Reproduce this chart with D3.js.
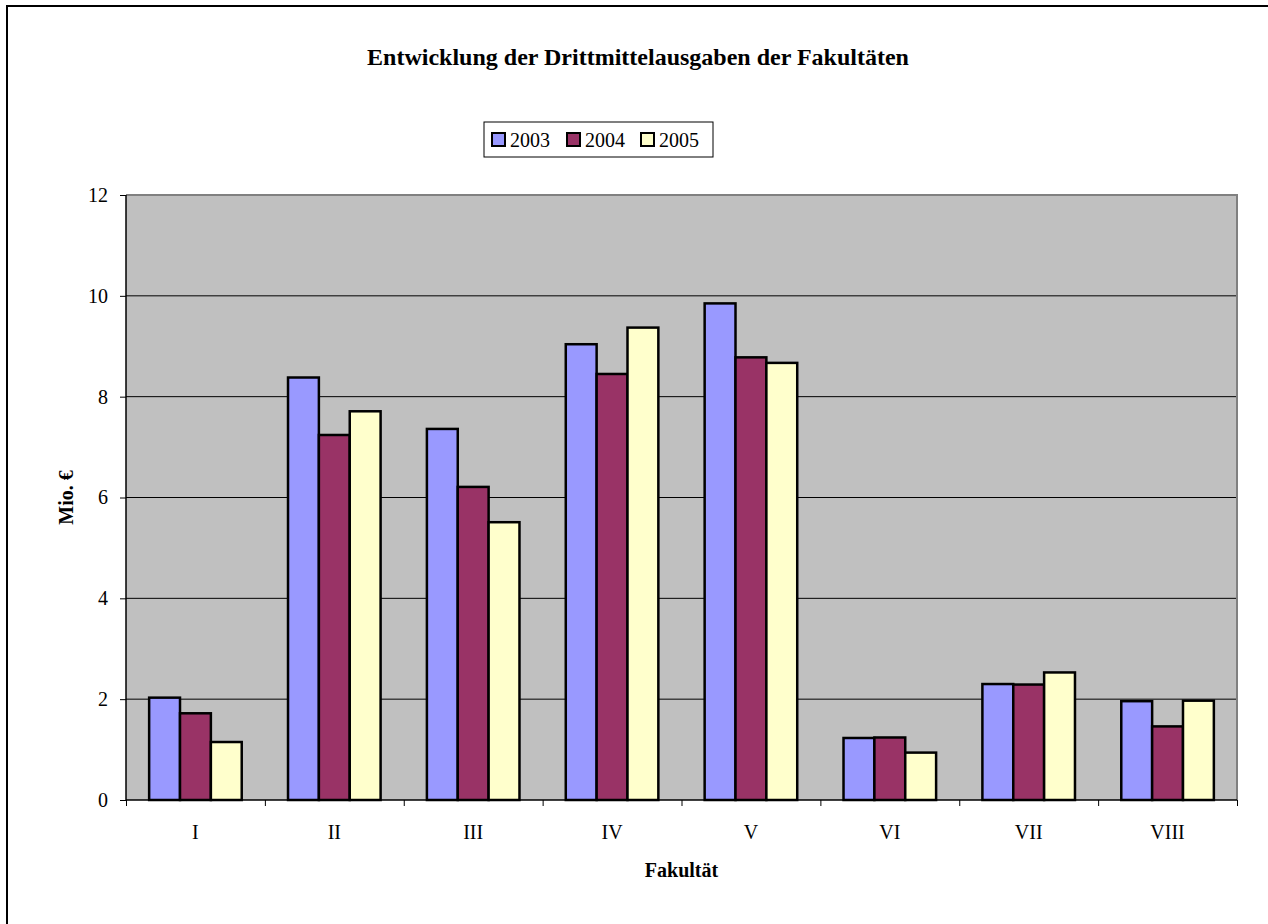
<!DOCTYPE html>
<html>
<head>
<meta charset="utf-8">
<script src="https://cdn.jsdelivr.net/npm/d3@7"></script>
<style>
  body { margin: 0; background: #fff; }
</style>
</head>
<body>
<svg width="1268" height="924"></svg>
<script>
const categories = ['I', 'II', 'III', 'IV', 'V', 'VI', 'VII', 'VIII'];
const years = ['2003', '2004', '2005'];
const values2003 = [2.03, 8.38, 7.36, 9.04, 9.85, 1.23, 2.30, 1.96];
const values2004 = [1.72, 7.24, 6.21, 8.45, 8.78, 1.24, 2.29, 1.46];
const values2005 = [1.15, 7.71, 5.51, 9.37, 8.67, 0.94, 2.53, 1.97];
const yTicks = [0, 2, 4, 6, 8, 10, 12];
const colors = ['#9999FF', '#993366', '#FFFFCC'];

const FONT = '"Liberation Serif", "Times New Roman", serif';

const svg = d3.select('svg')
    .attr('font-family', FONT);
const width = +svg.attr('width');
const height = +svg.attr('height');

// outer chart frame (only left and top edges are visible)
svg.append('path')
    .attr('d', `M7,${height}V6H${width}`)
    .attr('fill', 'none')
    .attr('stroke', '#000')
    .attr('stroke-width', 2);

const margin = { top: 195, right: width - 1237, bottom: height - 800, left: 126 };
const innerWidth = width - margin.left - margin.right;
const innerHeight = height - margin.top - margin.bottom;

const g = svg.append('g')
    .attr('transform', `translate(${margin.left},${margin.top})`);

const series = years.map((y, i) => ({
    year: y,
    values: [values2003, values2004, values2005][i]
}));

const rows = categories.map((c, ci) => ({
    cat: c,
    bars: series.map(s => ({ year: s.year, value: s.values[ci] }))
}));

const xScale = d3.scaleBand()
    .domain(categories)
    .range([0, innerWidth]);

const step = xScale.bandwidth();
const gap = step * 1.5 / 4.5;
const xInner = d3.scaleBand()
    .domain(years)
    .range([gap / 2, step - gap / 2]);

const yScale = d3.scaleLinear()
    .domain([0, 12])
    .range([innerHeight, 0]);

const colorScale = d3.scaleOrdinal().domain(years).range(colors);

// plot background
g.append('rect')
    .attr('width', innerWidth)
    .attr('height', innerHeight)
    .attr('fill', '#C0C0C0');

// gridlines
g.selectAll('.grid')
    .data(yTicks.filter(t => t > 0 && t < 12))
    .enter()
    .append('line')
    .attr('class', 'grid')
    .attr('x1', 0).attr('x2', innerWidth)
    .attr('y1', d => yScale(d)).attr('y2', d => yScale(d))
    .attr('stroke', '#000')
    .attr('stroke-width', 1);

// top and right plot border
g.append('path')
    .attr('d', `M0,0H${innerWidth}V${innerHeight}`)
    .attr('fill', 'none')
    .attr('stroke', '#808080')
    .attr('stroke-width', 2);

// bars
const groups = g.selectAll('.group')
    .data(rows)
    .enter()
    .append('g')
    .attr('class', 'group')
    .attr('transform', d => `translate(${xScale(d.cat)},0)`);

groups.selectAll('rect')
    .data(d => d.bars)
    .enter()
    .append('rect')
    .attr('x', d => xInner(d.year))
    .attr('y', d => yScale(d.value))
    .attr('width', xInner.bandwidth())
    .attr('height', d => innerHeight - yScale(d.value))
    .attr('fill', d => colorScale(d.year))
    .attr('stroke', '#000')
    .attr('stroke-width', 2.5);

// axes
const yAxis = d3.axisLeft(yScale)
    .tickValues(yTicks)
    .tickSize(6)
    .tickPadding(12);

const yAxisG = g.append('g')
    .attr('class', 'y-axis')
    .call(yAxis);
yAxisG.attr('font-family', FONT).attr('font-size', 20);
yAxisG.selectAll('.tick text').attr('fill', '#000');
yAxisG.select('.domain').attr('stroke', '#000').attr('stroke-width', 1.5)
    .attr('d', `M0,0V${innerHeight}`);

const xAxis = d3.axisBottom(d3.scaleLinear().domain([0, categories.length]).range([0, innerWidth]))
    .tickValues(d3.range(categories.length + 1))
    .tickSize(6)
    .tickFormat('');

const xAxisG = g.append('g')
    .attr('class', 'x-axis')
    .attr('transform', `translate(0,${innerHeight})`)
    .call(xAxis);
xAxisG.select('.domain').attr('stroke', '#000').attr('stroke-width', 1.5)
    .attr('d', `M0,0H${innerWidth}`);

g.selectAll('.cat-label')
    .data(categories)
    .enter()
    .append('text')
    .attr('class', 'cat-label')
    .attr('x', d => xScale(d) + step / 2)
    .attr('y', innerHeight + 39)
    .attr('text-anchor', 'middle')
    .attr('font-size', 20)
    .text(d => d);

// axis titles
g.append('text')
    .attr('class', 'axis-label')
    .attr('x', innerWidth / 2)
    .attr('y', innerHeight + 77)
    .attr('text-anchor', 'middle')
    .attr('font-size', 20)
    .attr('font-weight', 'bold')
    .text('Fakultät');

g.append('text')
    .attr('class', 'axis-label')
    .attr('transform', `translate(${73 - margin.left},${innerHeight / 2}) rotate(-90)`)
    .attr('text-anchor', 'middle')
    .attr('font-size', 20)
    .attr('font-weight', 'bold')
    .text('Mio. €');

// title
svg.append('text')
    .attr('class', 'title-label')
    .attr('x', 638)
    .attr('y', 65)
    .attr('text-anchor', 'middle')
    .attr('font-size', 24)
    .attr('font-weight', 'bold')
    .text('Entwicklung der Drittmittelausgaben der Fakultäten');

// legend
const legend = svg.append('g').attr('class', 'legend');
legend.append('rect')
    .attr('x', 484).attr('y', 122)
    .attr('width', 229).attr('height', 35)
    .attr('fill', '#fff')
    .attr('stroke', '#000')
    .attr('stroke-width', 1);

const legendX = d3.scaleOrdinal().domain(years).range([492, 567, 641]);

const items = legend.selectAll('.item')
    .data(years)
    .enter()
    .append('g')
    .attr('class', 'item')
    .attr('transform', d => `translate(${legendX(d)},133)`);

items.append('rect')
    .attr('width', 13).attr('height', 13)
    .attr('fill', d => colorScale(d))
    .attr('stroke', '#000')
    .attr('stroke-width', 2);

items.append('text')
    .attr('x', 18)
    .attr('y', 14)
    .attr('font-size', 20)
    .text(d => d);
</script>
</body>
</html>
